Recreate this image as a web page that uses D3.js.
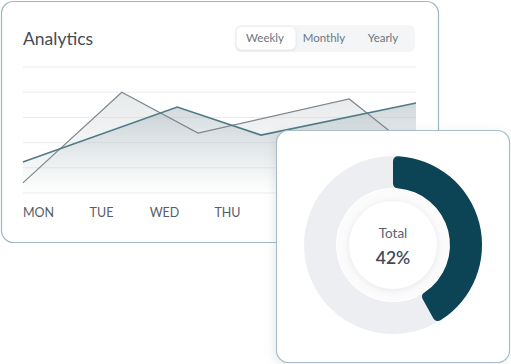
<!DOCTYPE html>
<html><head><meta charset="utf-8">
<script src="https://cdn.jsdelivr.net/npm/d3@7"></script>
<style>
html,body{margin:0;padding:0;background:#fff;}
svg{display:block;font-family:Lato,"Open Sans",sans-serif;}
</style></head>
<body><svg id="c" width="511" height="364"></svg>
<script>
const days = ["MON","TUE","WED","THU","FRI","SAT","SUN"];
const yTicks = [0,1,2,3,4,5];
const toggles = ["Weekly","Monthly","Yearly"];
const greyX = [-0.24, 1.33, 2.54, 4.94, 5.56, 6];
const greyY = [0.4, 4.0, 2.38, 3.73, 2.5, 1.6];
const tealX = [-0.24, 2.21, 3.54, 6];
const tealY = [1.23, 3.41, 2.3, 3.57];
const totalPct = 42;
const totalLabel = "Total";

const svg = d3.select("#c");
const defs = svg.append("defs");
const g1 = defs.append("linearGradient").attr("id","gA").attr("x1",0).attr("y1",0).attr("x2",0).attr("y2",1);
g1.append("stop").attr("offset","0%").attr("stop-color","#c9cfd3").attr("stop-opacity",0.45);
g1.append("stop").attr("offset","100%").attr("stop-color","#c9cfd3").attr("stop-opacity",0);
const g2 = defs.append("linearGradient").attr("id","gB").attr("x1",0).attr("y1",0).attr("x2",0).attr("y2",1);
g2.append("stop").attr("offset","0%").attr("stop-color","#a9b8be").attr("stop-opacity",0.55);
g2.append("stop").attr("offset","100%").attr("stop-color","#c5cfd3").attr("stop-opacity",0);
const sh = defs.append("filter").attr("id","sh").attr("x","-20%").attr("y","-20%").attr("width","140%").attr("height","140%");
sh.append("feDropShadow").attr("dx",-2).attr("dy",2).attr("stdDeviation",5).attr("flood-color","#7a8a94").attr("flood-opacity",0.18);
const sh2 = defs.append("filter").attr("id","sh2").attr("x","-30%").attr("y","-30%").attr("width","160%").attr("height","160%");
sh2.append("feDropShadow").attr("dx",0).attr("dy",1).attr("stdDeviation",3).attr("flood-color","#8d979e").attr("flood-opacity",0.22);
const sh3 = defs.append("filter").attr("id","sh3").attr("x","-30%").attr("y","-30%").attr("width","160%").attr("height","160%");
sh3.append("feDropShadow").attr("dx",0).attr("dy",1).attr("stdDeviation",1.5).attr("flood-color","#8d979e").attr("flood-opacity",0.25);

// main card
svg.append("rect").attr("x",1.5).attr("y",1.5).attr("width",437).attr("height",241).attr("rx",12)
  .attr("fill","#fff").attr("stroke","#9db6c1").attr("stroke-width",1.2);
svg.append("text").attr("x",23).attr("y",45).attr("font-size",17.5).attr("fill","#434b59").text("Analytics");

// toggle
const tg = svg.append("g");
tg.append("rect").attr("x",235).attr("y",25).attr("width",180).attr("height",27).attr("rx",6).attr("fill","#f3f5f6");
tg.append("rect").attr("x",236.5).attr("y",27).attr("width",59).attr("height",22.5).attr("rx",5).attr("fill","#fff").attr("filter","url(#sh3)");
const tx = d3.scalePoint().domain(toggles).range([265,383]);
tg.selectAll("text.t").data(toggles).join("text").attr("x",d=>tx(d)).attr("y",42).attr("text-anchor","middle")
  .attr("font-size",11.5).attr("fill","#6d7581").text(d=>d);

const x = d3.scaleLinear().domain([0,6]).range([38,416]);
const y = d3.scaleLinear().domain([0,5]).range([193,67]);

// grid
svg.append("g").selectAll("line").data(yTicks).join("line")
  .attr("x1",23).attr("x2",416).attr("y1",d=>y(d)).attr("y2",d=>y(d))
  .attr("stroke","#e8ebed").attr("stroke-width",1);

const grey = greyX.map((v,i)=>[v,greyY[i]]);
const teal = tealX.map((v,i)=>[v,tealY[i]]);
const area = d3.area().x(d=>x(d[0])).y0(y(0)).y1(d=>y(d[1]));
const line = d3.line().x(d=>x(d[0])).y(d=>y(d[1]));
svg.append("path").attr("d",area(grey)).attr("fill","url(#gA)");
svg.append("path").attr("d",area(teal)).attr("fill","url(#gB)");
svg.append("path").attr("d",line(grey)).attr("fill","none").attr("stroke","#7f878c").attr("stroke-width",1.2);
svg.append("path").attr("d",line(teal)).attr("fill","none").attr("stroke","#4f7b86").attr("stroke-width",1.7);

// x axis
const xa = svg.append("g").attr("transform","translate(0,208)")
  .call(d3.axisBottom(d3.scalePoint().domain(days).range([x(0),x(6)])).tickSize(0).tickPadding(0));
xa.select(".domain").remove();
xa.selectAll("text").attr("font-size",12.5).attr("fill","#545d6a").attr("font-family","Lato,sans-serif").attr("dy","0.71em");

// donut card
svg.append("rect").attr("x",276.5).attr("y",130.5).attr("width",233).attr("height",232).attr("rx",12)
  .attr("fill","#fff").attr("stroke","#a8bfc9").attr("stroke-width",1.2).attr("filter","url(#sh)");

const cx = 393, cy = 245;
const dg = svg.append("g").attr("transform",`translate(${cx},${cy})`);
const pie = d3.pie().sort(null).value(d=>d)([totalPct, 100-totalPct]);
const arcBg = d3.arc().innerRadius(57).outerRadius(89);
dg.append("path").attr("d",arcBg({startAngle:0,endAngle:2*Math.PI})).attr("fill","#eceef1");
const arcFg = d3.arc().innerRadius(57).outerRadius(89).cornerRadius(5);
dg.append("path").attr("d",arcFg(pie[0])).attr("fill","#0c4456");
dg.append("circle").attr("r",56).attr("fill","#fbfbfc");
dg.append("circle").attr("r",44).attr("fill","#fff").attr("filter","url(#sh2)");
dg.append("text").attr("y",-7).attr("text-anchor","middle").attr("font-size",13.5).attr("fill","#5b6370").text(totalLabel);
dg.append("text").attr("y",19).attr("text-anchor","middle").attr("font-size",17.5).attr("font-weight",600).attr("fill","#444c5a").text(totalPct+"%");
</script></body></html>
